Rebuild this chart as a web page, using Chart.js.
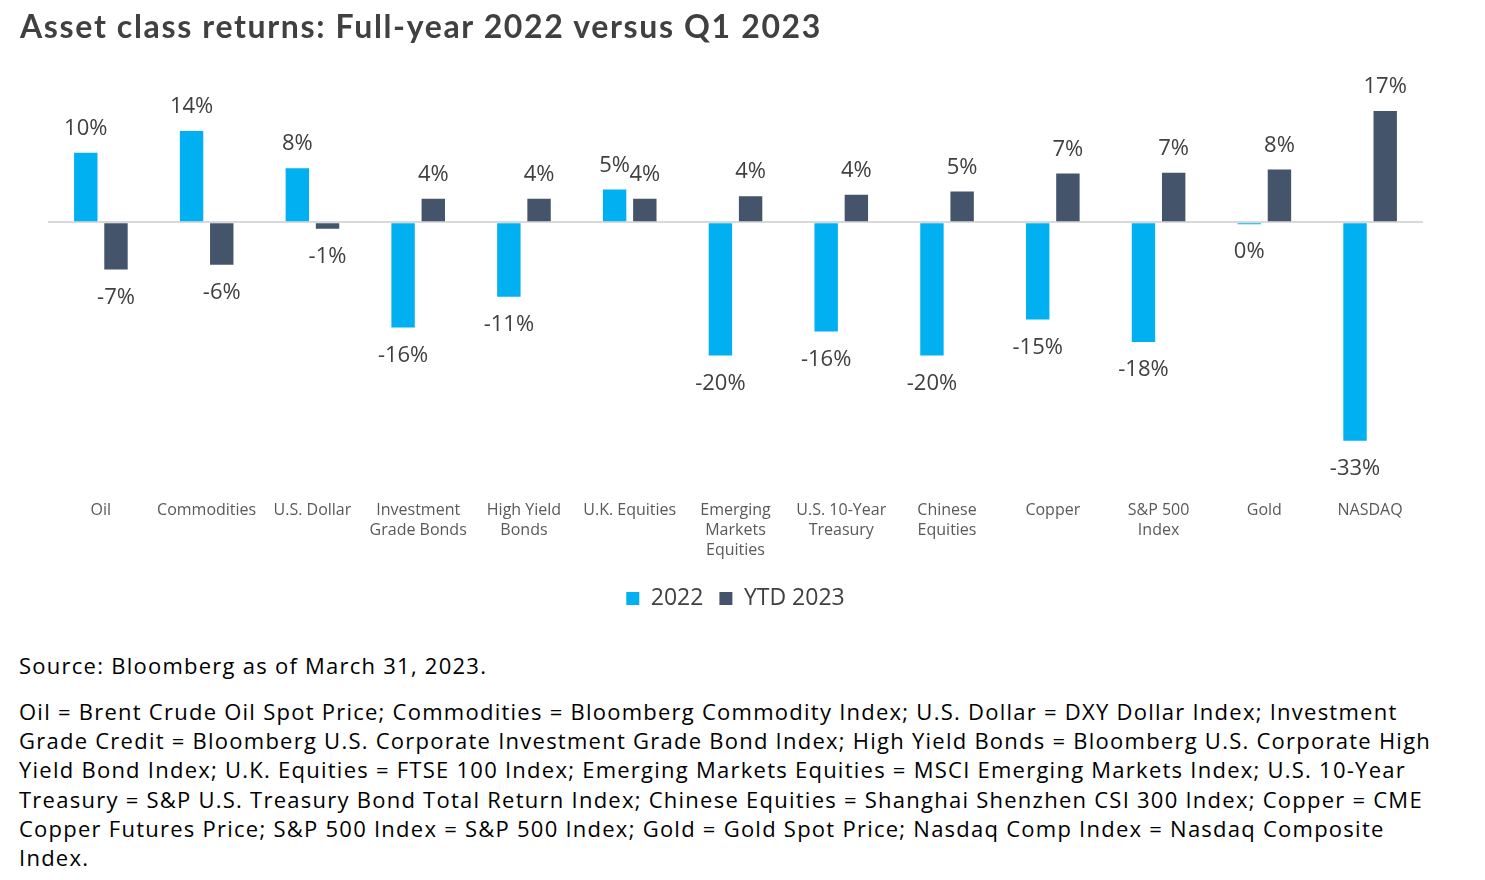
<!DOCTYPE html>
<html>
<head>
<meta charset="utf-8">
<script src="https://cdn.jsdelivr.net/npm/chart.js@4"></script>
<style>
  html, body { margin: 0; padding: 0; background: #ffffff; }
  body { width: 1485px; height: 880px; position: relative; overflow: hidden; }
  #title { position: absolute; left: 20px; top: 6px; font-family: Lato, sans-serif; font-weight: 700; font-size: 32px; color: #404040; white-space: nowrap; letter-spacing: 1.65px; }
  #wrap { position: absolute; left: 0; top: 0; width: 1485px; height: 630px; }
  #notes { position: absolute; left: 19px; top: 651px; font-family: "Open Sans", sans-serif; font-size: 22px; color: #000; line-height: 29.3px; white-space: nowrap; letter-spacing: 1.25px; }
  #notes .src { margin-bottom: 16.5px; }
</style>
</head>
<body>
<div id="wrap"><canvas id="c"></canvas></div>
<div id="title">Asset class returns: Full-year 2022 versus Q1 2023</div>
<div id="notes">
  <div class="src">Source: Bloomberg as of March 31, 2023.</div>
  <div>Oil = Brent Crude Oil Spot Price; Commodities = Bloomberg Commodity Index; U.S. Dollar = DXY Dollar Index; Investment<br>Grade Credit = Bloomberg U.S. Corporate Investment Grade Bond Index; High Yield Bonds = Bloomberg U.S. Corporate High<br>Yield Bond Index; U.K. Equities = FTSE 100 Index; Emerging Markets Equities = MSCI Emerging Markets Index; U.S. 10-Year<br>Treasury = S&amp;P U.S. Treasury Bond Total Return Index; Chinese Equities = Shanghai Shenzhen CSI 300 Index; Copper = CME<br>Copper Futures Price; S&amp;P 500 Index = S&amp;P 500 Index; Gold = Gold Spot Price; Nasdaq Comp Index = Nasdaq Composite<br>Index.</div>
</div>
<script>
const categories = [
  'Oil',
  'Commodities',
  'U.S. Dollar',
  ['Investment', 'Grade Bonds'],
  ['High Yield', 'Bonds'],
  'U.K. Equities',
  ['Emerging', 'Markets', 'Equities'],
  ['U.S. 10-Year', 'Treasury'],
  ['Chinese', 'Equities'],
  'Copper',
  ['S&P 500', 'Index'],
  'Gold',
  'NASDAQ'
];
const seriesNames = ['2022', 'YTD 2023'];
const values2022 = [10.4, 13.7, 8.1, -15.8, -11.2, 4.9, -20.0, -16.4, -20.0, -14.6, -18.0, -0.3, -32.8];
const valuesYTD2023 = [-7.1, -6.4, -1.0, 3.5, 3.5, 3.5, 3.9, 4.1, 4.6, 7.3, 7.4, 7.9, 16.7];
const seriesColors = ['#00B0F0', '#44546A'];

const labelPlugin = {
  id: 'barLabels',
  afterDatasetsDraw(chart) {
    const ctx = chart.ctx;
    ctx.save();
    ctx.font = '22px "Open Sans", sans-serif';
    ctx.fillStyle = '#404040';
    ctx.textAlign = 'center';
    ctx.textBaseline = 'middle';
    chart.data.datasets.forEach((ds, di) => {
      const meta = chart.getDatasetMeta(di);
      meta.data.forEach((bar, i) => {
        const v = ds.data[i];
        const txt = Math.round(v) + '%';
        const txtOut = (txt === '-0%') ? '0%' : txt;
        const y = v >= 0 ? bar.y - 24 : bar.y + 28;
        ctx.fillText(txtOut, bar.x, y);
      });
    });
    ctx.restore();
  }
};

new Chart(document.getElementById('c'), {
  type: 'bar',
  data: {
    labels: categories,
    datasets: [
      { label: seriesNames[0], data: values2022, backgroundColor: seriesColors[0] },
      { label: seriesNames[1], data: valuesYTD2023, backgroundColor: seriesColors[1] }
    ]
  },
  options: {
    responsive: true,
    maintainAspectRatio: false,
    animation: false,
    datasets: { bar: { categoryPercentage: 0.571, barPercentage: 0.775 } },
    layout: { padding: { left: 48, right: 62, top: 88.9, bottom: 10 } },
    scales: {
      x: {
        grid: { display: false, drawTicks: false },
        border: { display: false },
        ticks: {
          padding: 12,
          color: '#595959',
          font: { family: '"Open Sans", sans-serif', size: 16, lineHeight: 1.25 },
          maxRotation: 0,
          autoSkip: false
        },
        afterFit(scale) { scale.height = 82.3; }
      },
      y: {
        min: -40,
        max: 20,
        ticks: { display: false, stepSize: 10 },
        grid: {
          drawTicks: false,
          color: (c) => (c.tick && c.tick.value === 0) ? '#D9D9D9' : 'rgba(0,0,0,0)',
          lineWidth: (c) => (c.tick && c.tick.value === 0) ? 2 : 0
        },
        border: { display: false },
        afterFit(scale) { scale.width = 0; }
      }
    },
    plugins: {
      legend: {
        position: 'bottom',
        labels: {
          boxWidth: 13,
          boxHeight: 13,
          padding: 16,
          color: '#404040',
          font: { family: '"Open Sans", sans-serif', size: 23 }
        }
      },
      tooltip: { enabled: false }
    }
  },
  plugins: [labelPlugin]
});
</script>
</body>
</html>
